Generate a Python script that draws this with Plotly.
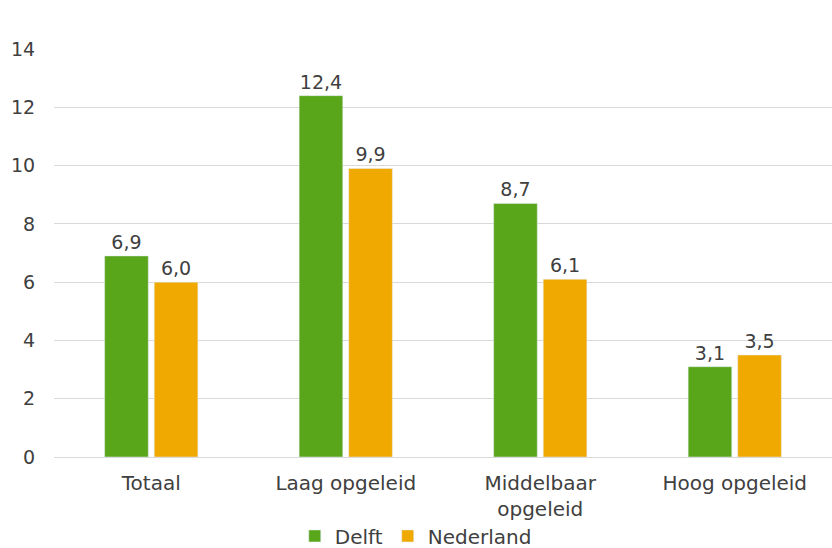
import plotly.graph_objects as go

categories = ["Totaal", "Laag opgeleid", "Middelbaar<br>opgeleid", "Hoog opgeleid"]
delft = [6.9, 12.4, 8.7, 3.1]
nederland = [6.0, 9.9, 6.1, 3.5]
series_names = ["Delft", "Nederland"]
y_ticks = [0, 2, 4, 6, 8, 10, 12, 14]

def fmt(v):
    return f"{v:.1f}".replace(".", ",")

font_family = "DejaVu Sans, Verdana, sans-serif"
text_color = "#404040"
fs = 19
fs_cat = 20

fig = go.Figure()
fig.add_trace(go.Bar(
    name=series_names[0], x=categories, y=delft,
    marker=dict(color="#5aa61a"),
    text=[fmt(v) for v in delft], textposition="outside",
    textfont=dict(size=fs, color=text_color, family=font_family),
    cliponaxis=False,
))
fig.add_trace(go.Bar(
    name=series_names[1], x=categories, y=nederland,
    marker=dict(color="#f0a900"),
    text=[fmt(v) for v in nederland], textposition="outside",
    textfont=dict(size=fs, color=text_color, family=font_family),
    cliponaxis=False,
))

fig.update_layout(
    width=832, height=548,
    margin=dict(l=54, r=0, t=49, b=91),
    paper_bgcolor="white", plot_bgcolor="white",
    barmode="group", bargap=0.49, bargroupgap=0.12,
    font=dict(family=font_family, size=fs, color=text_color),
    showlegend=True,
    legend=dict(orientation="h", x=0.465, xanchor="center",
                yref="container", y=0.022, yanchor="middle",
                bgcolor="rgba(0,0,0,0)",
                font=dict(size=fs_cat, color=text_color),
                itemwidth=30, tracegroupgap=0),
    yaxis=dict(range=[0, 14], tickvals=y_ticks, ticktext=[str(t) for t in y_ticks],
               showgrid=True, gridcolor="#d9d9d9", gridwidth=1,
               zeroline=True, zerolinecolor="#d9d9d9", zerolinewidth=1,
               showline=False, ticks="outside", ticklen=14, tickcolor="rgba(0,0,0,0)",
               automargin=False,
               tickfont=dict(size=fs, color=text_color)),
    xaxis=dict(showgrid=False, showline=False, ticks="outside", ticklen=8,
               tickcolor="rgba(0,0,0,0)", automargin=False,
               tickfont=dict(size=fs_cat, color=text_color)),
)

fig.write_html("out.html", config={"displayModeBar": False},
               post_script="document.body.style.margin='0';")
